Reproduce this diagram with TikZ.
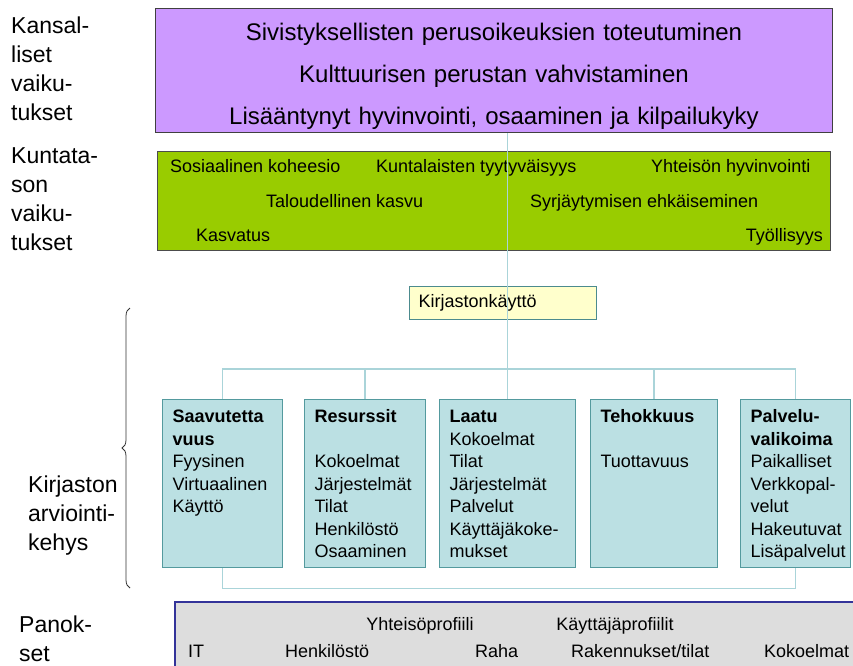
\documentclass[tikz,border=0pt]{standalone}
\usepackage{fontspec}
\setmainfont{Liberation Sans}
\usepackage{tikz}
\usetikzlibrary{calc,                      % Calculs de coordonnées entre $ $
           positioning,
           decorations.pathreplacing} % pour l'accolade
\definecolor{lila}{RGB}{204,153,255}
\definecolor{vihrea}{RGB}{153,204,0}
\definecolor{sininen}{RGB}{187,224,227}
\definecolor{reuna}{RGB}{84,154,158}
\definecolor{viiva}{RGB}{170,212,217}
\definecolor{keltainen}{RGB}{255,255,204}
\definecolor{harmaa}{RGB}{221,221,221}
\definecolor{tummasin}{RGB}{51,51,153}
\hyphenpenalty=10000

\begin{document}
\begin{tikzpicture}[x=1pt,y=-1pt,
  laatikko/.style={draw=reuna,fill=sininen,line width=1.2pt,anchor=north west,
    inner xsep=10pt,inner ysep=5pt,text height=18pt,text depth=140pt,align=left,
    font=\fontsize{18}{22.5}\selectfont},
  yhteys/.style={draw=viiva,line width=1.4pt},
  taso/.style={anchor=base west,inner sep=0pt,text width=110pt,align=left,
    font=\fontsize{23}{29}\selectfont},
  vaikutus/.style={anchor=base west,inner sep=0pt,font=\fontsize{18}{22}\selectfont},
  panos/.style={anchor=base west,inner sep=0pt,font=\fontsize{18}{22}\selectfont}]
\useasboundingbox (0,0) rectangle (853,665);
\clip (0,0) rectangle (853,665);

% tasot vasemmalla
\node[taso] (kansallinen) at (11,33) {Kansal-\\liset\\vaiku-\\tukset};
\node[taso] (kuntataso) at (11,163) {Kuntata-\\son\\vaiku-\\tukset};
\node[taso] (kehys) at (28,492) {Kirjaston\\arviointi-\\kehys};
\node[taso] (panokset) at (19,632) {Panok-\\set};
\coordinate (sulkuala) at (130,588);
\coordinate (sulkuyla) at (130,308);
\draw[decorate,decoration={brace,amplitude=8pt},line width=0.8pt,black!80] (sulkuala) -- (sulkuyla);

% kansalliset vaikutukset
\node[draw=black!75,fill=lila,line width=1pt,anchor=north west,inner xsep=0pt,inner ysep=4pt,
  text width=677pt,text height=28pt,text depth=88pt,align=center,
  font=\fontsize{24}{42}\selectfont] (kansa) at (155,8)
  {Sivistyksellisten perusoikeuksien toteutuminen\\
   Kulttuurisen perustan vahvistaminen\\
   Lisääntynyt hyvinvointi, osaaminen ja kilpailukyky};

% kuntatason vaikutukset
\node[draw=black!70,fill=vihrea,line width=1pt,anchor=north west,inner sep=0pt,
  minimum width=673pt,minimum height=99pt] (kunta) at (157,151) {};
\node[vaikutus] (koheesio) at (170,172) {Sosiaalinen koheesio};
\node[vaikutus] (tyytyvaisyys) at (376,172) {Kuntalaisten tyytyväisyys};
\node[vaikutus] (hyvinvointi) at (651,172) {Yhteisön hyvinvointi};
\node[vaikutus] (kasvu) at (266,207) {Taloudellinen kasvu};
\node[vaikutus] (syrjaytyminen) at (530,207) {Syrjäytymisen ehkäiseminen};
\node[vaikutus] (kasvatus) at (196,241) {Kasvatus};
\node[vaikutus,anchor=base east] (tyollisyys) at (823,241) {Työllisyys};

% kirjastonkäyttö
\node[draw=reuna!90!black,fill=keltainen,line width=1.2pt,anchor=north west,inner xsep=9pt,
  text width=169pt,minimum height=33pt,align=left,font=\fontsize{18}{22}\selectfont]
  (kaytto) at (409,286) {Kirjastonkäyttö};

% arviointikehys
\node[laatikko,text width=100pt] (saav) at (162,399)
  {\textbf{Saavutetta}\\\textbf{vuus}\\Fyysinen\\Virtuaalinen\\Käyttö};
\node[laatikko,text width=101pt] (res) at (304,399)
  {\textbf{Resurssit}\\[22.5pt]Kokoelmat\\Järjestelmät\\Tilat\\Henkilöstö\\Osaaminen};
\node[laatikko,text width=116pt] (laatu) at (439,399)
  {\textbf{Laatu}\\Kokoelmat\\Tilat\\Järjestelmät\\Palvelut\\Käyttäjäkoke-\\mukset};
\node[laatikko,text width=107pt] (teho) at (590,399)
  {\textbf{Tehokkuus}\\[22.5pt]Tuottavuus};
\node[laatikko,text width=90pt] (palv) at (740,399)
  {\textbf{Palvelu-}\\\textbf{valikoima}\\Paikalliset\\Verkkopal-\\velut\\Hakeutuvat\\Lisäpalvelut};

\coordinate (ylavayla) at ($(saav.north)+(0,-30)$);
\draw[yhteys] (saav.north) -- (ylavayla) -| (palv.north);
\draw[yhteys] (res.north) -- (res.north |- ylavayla);
\draw[yhteys] (teho.north) -- (teho.north |- ylavayla);
\draw[yhteys] (kansa.south -| laatu.north) -- (laatu.north);
\draw[yhteys] (saav.south) -- ++(0,20) -| (palv.south);

% panokset
\node[draw=tummasin,fill=harmaa,line width=1.6pt,anchor=north west,inner sep=0pt,
  minimum width=720pt,minimum height=100pt] (panos) at (174,601) {};
\node[panos,anchor=base] (yhteiso) at (420,630) {Yhteisöprofiili};
\node[panos,anchor=base] (kayttaja) at (615,630) {Käyttäjäprofiilit};
\node[panos] (it) at (188,657) {IT};
\node[panos] (henkilosto) at (285,657) {Henkilöstö};
\node[panos] (raha) at (475,657) {Raha};
\node[panos] (tilat) at (571,657) {Rakennukset/tilat};
\node[panos] (kokoelmat) at (764,657) {Kokoelmat};
\end{tikzpicture}
\end{document}
